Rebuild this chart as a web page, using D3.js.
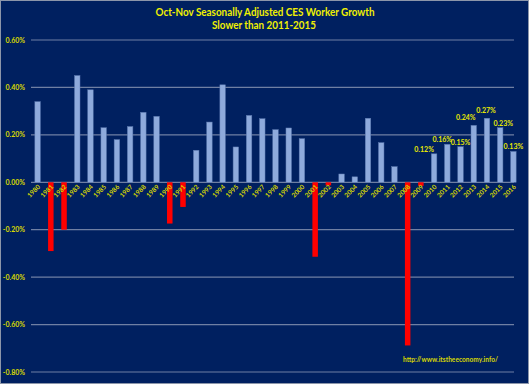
<!DOCTYPE html>
<html lang="en">
  <head>
    <meta charset="UTF-8" />
    <title>Oct-Nov CES Worker Growth</title>
    <style>
      body {
        margin: 0;
        background: #002060;
      }
      text {
        font-family: Lato, "Open Sans", sans-serif;
      }
    </style>
  </head>

  <body>
    <script src="https://d3js.org/d3.v7.min.js"></script>
    <script>
      /* global d3 */

      const years = d3.range(1980, 2017).map(String);
      const growth = [
        0.34, -0.29, -0.2, 0.45, 0.39, 0.23, 0.18, 0.235, 0.295, 0.278,
        -0.174, -0.104, 0.135, 0.254, 0.411, 0.149, 0.282, 0.268, 0.222, 0.229,
        0.184, -0.314, -0.013, 0.035, 0.023, 0.27, 0.167, 0.066, -0.688, -0.015,
        0.12, 0.16, 0.15, 0.24, 0.27, 0.23, 0.13
      ];
      const labelledYears = ["2010", "2011", "2012", "2013", "2014", "2015", "2016"];
      const yTicks = [0.6, 0.4, 0.2, 0, -0.2, -0.4, -0.6, -0.8];

      const width = 529,
        height = 384;

      const svg = d3
        .select("body")
        .append("svg")
        .attr("width", width)
        .attr("height", height);

      svg
        .append("rect")
        .attr("x", 0.5)
        .attr("y", 0.5)
        .attr("width", width - 1)
        .attr("height", height - 1)
        .attr("fill", "#002060")
        .attr("stroke", "#8c96aa");

      const x = d3.scaleBand().domain(years).range([31, 520]);
      const y = d3.scaleLinear().domain([-0.8, 0.6]).range([372, 40]);

      // gridlines
      svg
        .selectAll(".grid")
        .data(yTicks)
        .join("line")
        .attr("class", "grid")
        .attr("x1", 31)
        .attr("x2", 514)
        .attr("y1", d => y(d))
        .attr("y2", d => y(d))
        .attr("stroke", "#6f7fa3")
        .attr("stroke-width", 1.2);

      // y labels
      svg
        .selectAll(".ylab")
        .data(yTicks)
        .join("text")
        .attr("class", "ylab")
        .attr("x", 25)
        .attr("y", d => y(d) + 2.5)
        .attr("text-anchor", "end")
        .attr("fill", "#d8d800")
        .style("font-size", "7px")
        .style("font-weight", "bold")
        .text(d => d.toFixed(2) + "%");

      // bars
      const bw = 5.5;
      svg
        .selectAll(".bar")
        .data(growth)
        .join("rect")
        .attr("class", "bar")
        .attr("x", (d, i) => x(years[i]) + x.bandwidth() / 2 - bw / 2)
        .attr("width", bw)
        .attr("y", d => (d >= 0 ? y(d) : y(0)))
        .attr("height", d => Math.abs(y(d) - y(0)))
        .attr("fill", d => (d >= 0 ? "#8eaadc" : "#ff0000"))
        .attr("stroke", d => (d >= 0 ? "#5a78b0" : "none"))
        .attr("stroke-width", 0.5);

      // x labels
      svg
        .selectAll(".xlab")
        .data(years)
        .join("text")
        .attr("class", "xlab")
        .attr("transform", d => `translate(${x(d) + x.bandwidth() / 2 + 3},${y(0) + 5}) rotate(-45)`)
        .attr("text-anchor", "end")
        .attr("fill", "#d8d800")
        .style("font-size", "6.5px")
        .style("font-weight", "bold")
        .text(d => d);

      // value labels (nudged sideways like the original, to dodge each other)
      const nudge = { 2010: [-10, 0], 2011: [-5, 0], 2012: [0, 0], 2013: [-8, -3], 2014: [-1, -3], 2015: [3, 0], 2016: [0, 0] };
      svg
        .selectAll(".vlab")
        .data(growth.map((v, i) => ({ year: years[i], v })).filter(d => labelledYears.includes(d.year)))
        .join("text")
        .attr("class", "vlab")
        .attr("x", d => x(d.year) + x.bandwidth() / 2 + nudge[d.year][0])
        .attr("y", d => y(d.v) - 2 + nudge[d.year][1])
        .attr("text-anchor", "middle")
        .attr("fill", "#e8e800")
        .style("font-size", "7px")
        .style("font-weight", "bold")
        .text(d => d.v.toFixed(2) + "%");

      // title
      svg
        .append("text")
        .attr("x", 265)
        .attr("y", 16)
        .attr("text-anchor", "middle")
        .attr("fill", "#f0f000")
        .attr("textLength", 219)
        .attr("lengthAdjust", "spacingAndGlyphs")
        .style("font-size", "11.5px")
        .style("font-weight", "bold")
        .text("Oct-Nov Seasonally Adjusted CES Worker Growth");
      svg
        .append("text")
        .attr("x", 264)
        .attr("y", 28.5)
        .attr("text-anchor", "middle")
        .attr("fill", "#f0f000")
        .attr("textLength", 104)
        .attr("lengthAdjust", "spacingAndGlyphs")
        .style("font-size", "11.5px")
        .style("font-weight", "bold")
        .text("Slower than 2011-2015");

      svg
        .append("text")
        .attr("x", 403)
        .attr("y", 362)
        .attr("fill", "#d8d800")
        .attr("textLength", 95)
        .style("font-size", "6.5px")
        .style("font-weight", "bold")
        .text("http://www.itstheeconomy.info/");
    </script>
  </body>
</html>
